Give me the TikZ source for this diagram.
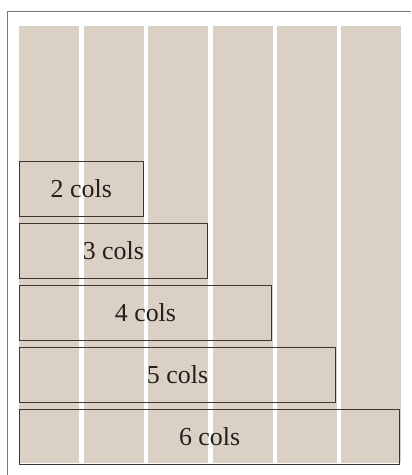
\documentclass[tikz,border=0pt]{standalone}
\usepackage{fontspec}
\setmainfont{Liberation Serif}
\begin{document}
\begin{tikzpicture}[x=1bp,y=-1bp,
  colfill/.style={fill={rgb,255:red,218;green,208;blue,196}},
  spanbox/.style={draw={rgb,255:red,60;green,54;blue,50}, line width=0.9bp, anchor=north west,
    minimum height=55bp, inner sep=0pt, outer sep=0pt,
    font=\fontsize{26}{30}\selectfont, text={rgb,255:red,35;green,31;blue,30}},
  frameline/.style={draw={rgb,255:red,120;green,120;blue,120}, line width=1.6bp}]
\useasboundingbox (0,0) rectangle (411,475);
\fill[white] (0,0) rectangle (411,475);
\draw[frameline] (7.5,475) -- (7.5,11.5) -- (411,11.5);
\foreach \i in {0,...,5} {
  \fill[colfill] ({19.3+\i*64.4},26) rectangle ({19.3+\i*64.4+60},463.3);
}
\node[spanbox, minimum width={2*64.4-4.4}] (c2) at (19.3,161) {2 cols};
\node[spanbox, minimum width={3*64.4-4.4}] (c3) at (19.3,223) {3 cols};
\node[spanbox, minimum width={4*64.4-4.4}] (c4) at (19.3,285) {4 cols};
\node[spanbox, minimum width={5*64.4-4.4}] (c5) at (19.3,347.5) {5 cols};
\node[spanbox, minimum width={6*64.4-4.4}] (c6) at (19.3,409) {6 cols};
\end{tikzpicture}
\end{document}
